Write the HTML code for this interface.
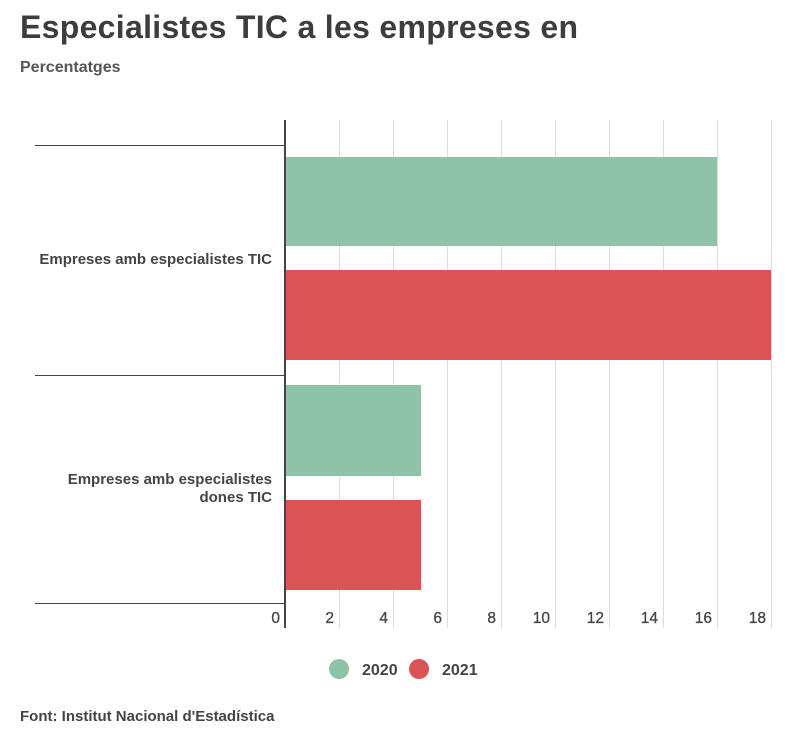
<!DOCTYPE html>
<html><head><meta charset="utf-8"><style>
body{margin:0;background:#fff;width:811px;height:730px;overflow:hidden;font-family:"Liberation Sans",sans-serif;color:#444}
</style></head><body>
<svg width="811" height="730" xmlns="http://www.w3.org/2000/svg" font-family="Liberation Sans, sans-serif">
<text x="20" y="38" font-size="32" font-weight="bold" fill="#3d3d3d" letter-spacing="0.3">Especialistes TIC a les empreses en</text>
<text x="20" y="72" font-size="16" font-weight="bold" fill="#555">Percentatges</text>
<g stroke="#ddd" stroke-width="1">
<line x1="339.5" y1="120" x2="339.5" y2="628"/><line x1="393.5" y1="120" x2="393.5" y2="628"/><line x1="447.5" y1="120" x2="447.5" y2="628"/><line x1="501.5" y1="120" x2="501.5" y2="628"/><line x1="555.5" y1="120" x2="555.5" y2="628"/><line x1="609.5" y1="120" x2="609.5" y2="628"/><line x1="663.5" y1="120" x2="663.5" y2="628"/><line x1="717.5" y1="120" x2="717.5" y2="628"/><line x1="771.5" y1="120" x2="771.5" y2="628"/>
</g>
<rect x="286" y="157" width="431" height="89" fill="#8fc3a7"/>
<rect x="286" y="270" width="485" height="90" fill="#dc5356"/>
<rect x="286" y="385" width="135" height="91" fill="#8fc3a7"/>
<rect x="286" y="500" width="135" height="90" fill="#dc5356"/>
<g stroke="#444" stroke-width="1">
<line x1="35" y1="145.5" x2="285" y2="145.5"/><line x1="35" y1="375.5" x2="285" y2="375.5"/><line x1="35" y1="603.5" x2="285" y2="603.5"/>
</g>
<line x1="285" y1="120" x2="285" y2="628" stroke="#444" stroke-width="2"/>
<g font-size="15" font-weight="bold" fill="#444" text-anchor="end">
<text x="272" y="264">Empreses amb especialistes TIC</text>
<text x="272" y="484">Empreses amb especialistes</text>
<text x="272" y="502">dones TIC</text>
</g>
<g font-size="15.5" fill="#444" text-anchor="end" stroke="#444" stroke-width="0.3">
<text x="280" y="623">0</text><text x="334" y="623">2</text><text x="388" y="623">4</text><text x="442" y="623">6</text><text x="496" y="623">8</text><text x="550" y="623">10</text><text x="604" y="623">12</text><text x="658" y="623">14</text><text x="712" y="623">16</text><text x="766" y="623">18</text>
</g>
<circle cx="339" cy="669" r="10" fill="#8fc3a7"/>
<text x="362" y="675" font-size="16" fill="#444" font-weight="bold">2020</text>
<circle cx="419" cy="669" r="10" fill="#dc5356"/>
<text x="442" y="675" font-size="16" fill="#444" font-weight="bold">2021</text>
<text x="20" y="721" font-size="15" font-weight="bold" fill="#444">Font: Institut Nacional d'Estadística</text>
</svg>
</body></html>
